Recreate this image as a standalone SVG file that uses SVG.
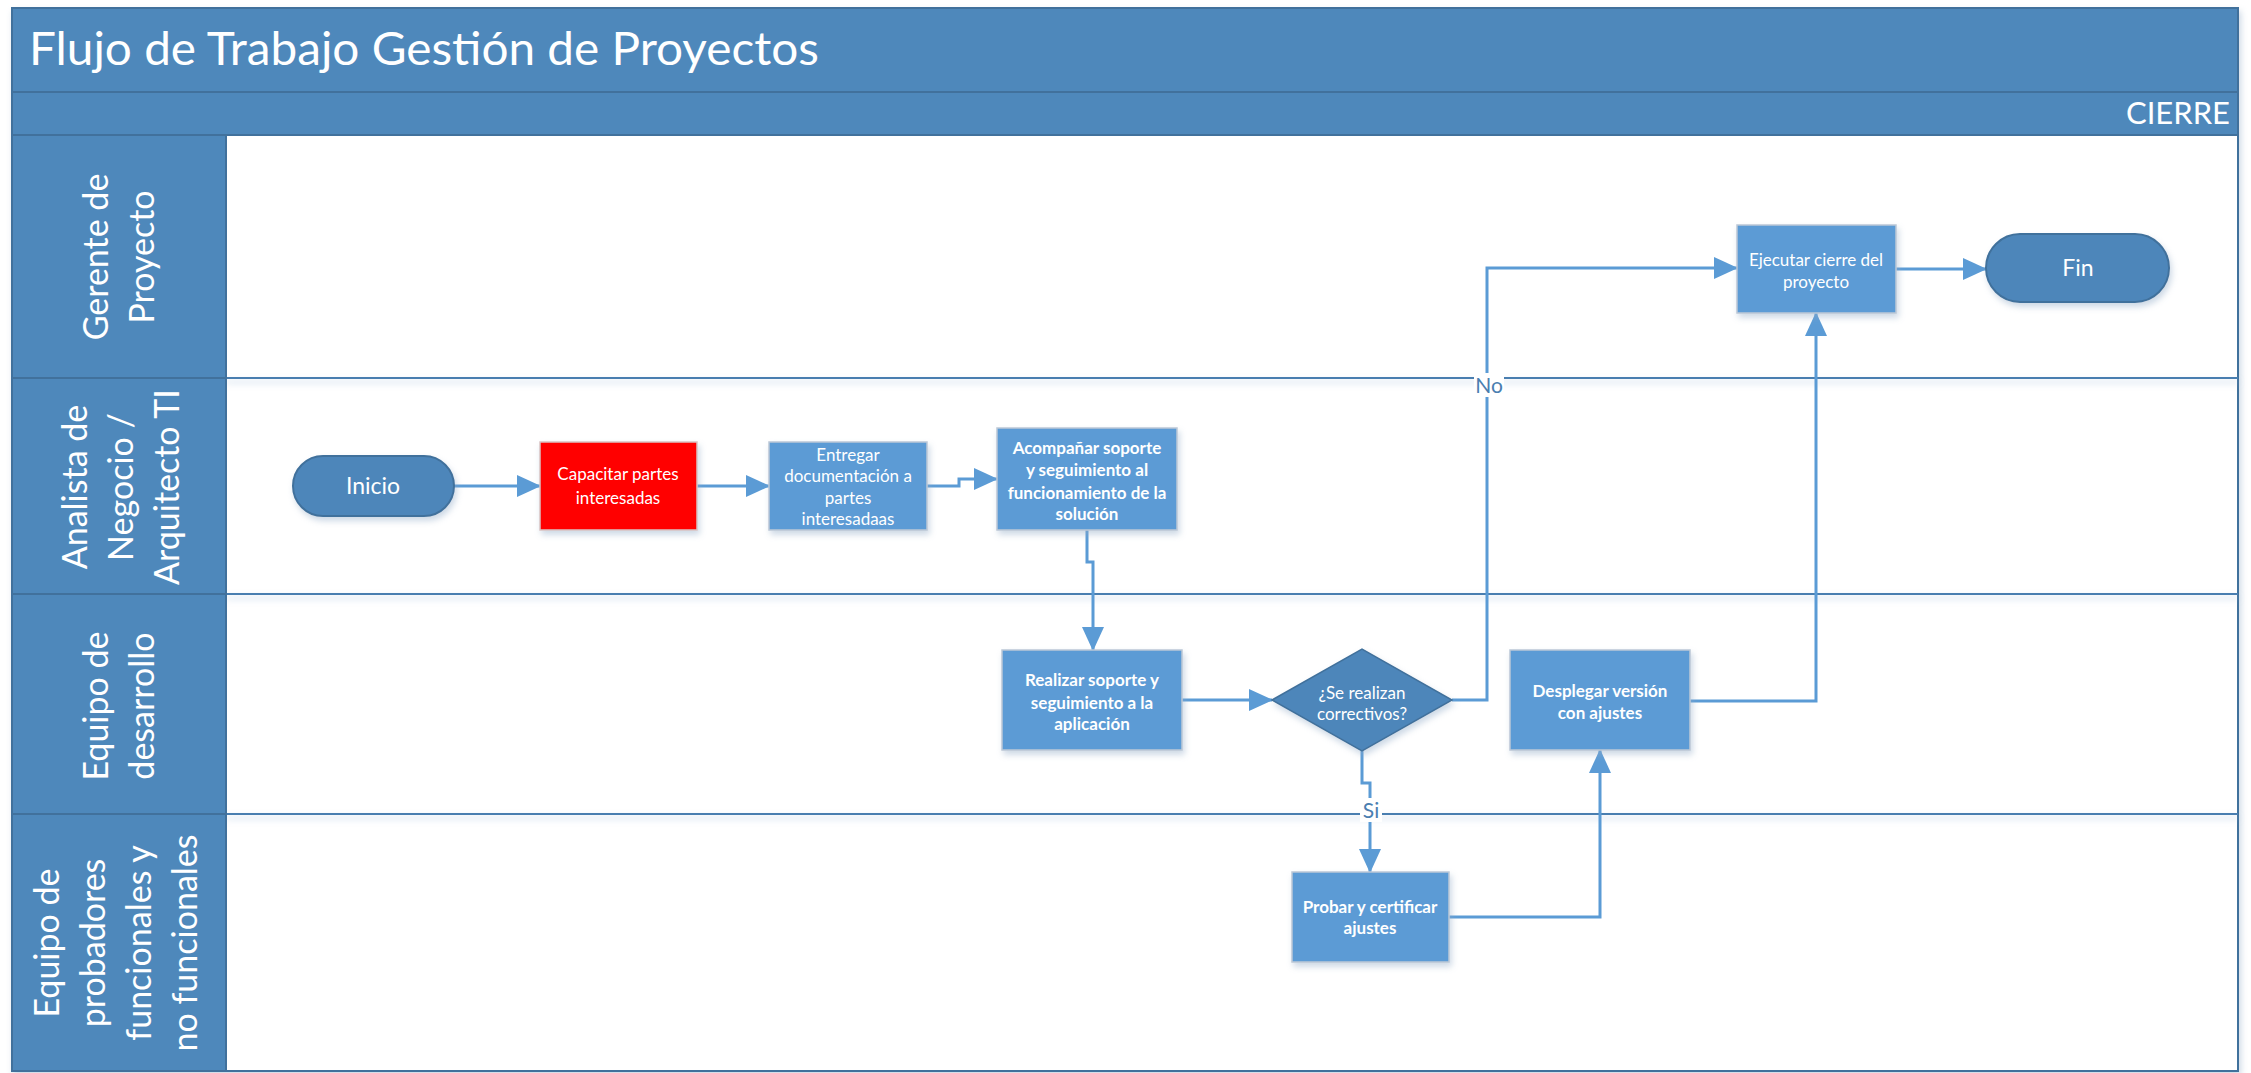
<svg xmlns="http://www.w3.org/2000/svg" width="2251" height="1073" viewBox="0 0 2251 1073">
  <defs>
    <style>
      .band { fill: #4E88BB; stroke: #41719C; stroke-width: 2; }
      .lane-sep { stroke: #4A7EB0; stroke-width: 2; fill: none; }
      .lane-title { font-family: Lato, "Liberation Sans", sans-serif; font-size: 34px; fill: #ffffff; text-anchor: middle; }
      .title { font-family: Lato, "Liberation Sans", sans-serif; font-size: 46px; fill: #ffffff; }
      .phase { font-family: Lato, "Liberation Sans", sans-serif; font-size: 31px; fill: #ffffff; text-anchor: end; }
      .proc { fill: #5B9BD5; stroke: #BCC8D6; stroke-width: 1.5; filter: url(#shadow); }
      .proc-red { fill: #FF0000; stroke: #D9C4C4; stroke-width: 1.5; filter: url(#shadow); }
      .term { fill: #4E86BA; stroke: #41719C; stroke-width: 2; filter: url(#shadow); }
      .dec { fill: #4E86BA; stroke: #41719C; stroke-width: 1.5; filter: url(#shadow); }
      .label { font-family: Lato, "Liberation Sans", sans-serif; font-size: 17px; fill: #ffffff; text-anchor: middle; }
      .bold { font-weight: bold; }
      .term-label { font-family: Lato, "Liberation Sans", sans-serif; font-size: 23px; fill: #ffffff; text-anchor: middle; }
      .conn { fill: none; stroke: #5B9BD5; stroke-width: 3; marker-end: url(#arrow); }
      .conn-label { font-family: Lato, "Liberation Sans", sans-serif; font-size: 21px; fill: #4A7EB0; text-anchor: middle; }
    </style>
    <marker id="arrow" markerUnits="userSpaceOnUse" markerWidth="24" markerHeight="22" refX="23" refY="11" orient="auto">
      <path d="M0,0 L24,11 L0,22 Z" fill="#5B9BD5"/>
    </marker>
    <filter id="shadow" x="-10%" y="-10%" width="130%" height="140%">
      <feDropShadow dx="2" dy="4" stdDeviation="3" flood-color="#8FA9C6" flood-opacity="0.45"/>
    </filter>
    <filter id="lineglow" x="-1%" y="-200%" width="102%" height="600%">
      <feDropShadow dx="0" dy="4" stdDeviation="3" flood-color="#9DBBDA" flood-opacity="0.6"/>
    </filter>
  </defs>

  <!-- page and frame -->
  <rect x="0" y="0" width="2251" height="1073" fill="#ffffff"/>
  <rect x="12" y="8" width="2226" height="1063" fill="#ffffff" stroke="#41719C" stroke-width="2" filter="url(#shadow)"/>

  <!-- title and phase bands -->
  <g id="pool-title">
    <rect class="band" x="12" y="8" width="2226" height="84"/>
    <text class="title" x="29" y="65" textLength="790" lengthAdjust="spacingAndGlyphs">Flujo de Trabajo Gestión de Proyectos</text>
  </g>
  <g id="phase-cierre">
    <rect class="band" x="12" y="92" width="2226" height="43"/>
    <text class="phase" x="2230" y="124">CIERRE</text>
  </g>

  <!-- lane separators -->
  <g id="lane-lines" filter="url(#lineglow)">
    <line class="lane-sep" x1="226" y1="378" x2="2238" y2="378"/>
    <line class="lane-sep" x1="226" y1="594" x2="2238" y2="594"/>
    <line class="lane-sep" x1="226" y1="814" x2="2238" y2="814"/>
  </g>

  <!-- lane headers -->
  <g id="lane-gerente">
    <rect class="band" x="12" y="135" width="214" height="243"/>
    <text class="lane-title" transform="translate(0,257) rotate(-90)"><tspan x="0" y="108">Gerente de</tspan><tspan x="0" y="154">Proyecto</tspan></text>
  </g>
  <g id="lane-analista">
    <rect class="band" x="12" y="378" width="214" height="216"/>
    <text class="lane-title" transform="translate(0,487) rotate(-90)"><tspan x="0" y="87">Analista de</tspan><tspan x="0" y="133">Negocio /</tspan><tspan x="0" y="179">Arquitecto TI</tspan></text>
  </g>
  <g id="lane-desarrollo">
    <rect class="band" x="12" y="594" width="214" height="220"/>
    <text class="lane-title" transform="translate(0,706) rotate(-90)"><tspan x="0" y="108">Equipo de</tspan><tspan x="0" y="154">desarrollo</tspan></text>
  </g>
  <g id="lane-probadores">
    <rect class="band" x="12" y="814" width="214" height="257"/>
    <text class="lane-title" transform="translate(0,943) rotate(-90)"><tspan x="0" y="59">Equipo de</tspan><tspan x="0" y="105">probadores</tspan><tspan x="0" y="151">funcionales y</tspan><tspan x="0" y="197">no funcionales</tspan></text>
  </g>

  <!-- connectors -->
  <g id="connectors">
    <path class="conn" d="M454,486 H540"/>
    <path class="conn" d="M697,486 H769"/>
    <path class="conn" d="M927,486 H959 V479 H997"/>
    <path class="conn" d="M1087,530 V562 H1093 V650"/>
    <path class="conn" d="M1182,700 H1272"/>
    <path class="conn" d="M1452,700 H1487 V268 H1737"/>
    <path class="conn" d="M1362,751 V783 H1370 V872"/>
    <path class="conn" d="M1449,917 H1600 V750"/>
    <path class="conn" d="M1690,701 H1816 V313"/>
    <path class="conn" d="M1896,269 H1986"/>
    <g id="label-no">
      <rect x="1474" y="373" width="30" height="24" fill="#ffffff"/>
      <text class="conn-label" x="1489" y="393">No</text>
    </g>
    <g id="label-si">
      <rect x="1360" y="798" width="22" height="24" fill="#ffffff"/>
      <text class="conn-label" x="1371" y="818">Si</text>
    </g>
  </g>

  <!-- nodes -->
  <g id="inicio">
    <rect class="term" x="293" y="456" width="161" height="60" rx="30"/>
    <text class="term-label" x="373" y="494">Inicio</text>
  </g>
  <g id="capacitar">
    <rect class="proc-red" x="540" y="442" width="157" height="88"/>
    <text class="label"><tspan x="618" y="480">Capacitar partes</tspan><tspan x="618" y="504">interesadas</tspan></text>
  </g>
  <g id="entregar">
    <rect class="proc" x="769" y="442" width="158" height="88"/>
    <text class="label"><tspan x="848" y="461">Entregar</tspan><tspan x="848" y="482">documentación a</tspan><tspan x="848" y="504">partes</tspan><tspan x="848" y="525">interesadaas</tspan></text>
  </g>
  <g id="acompanar">
    <rect class="proc" x="997" y="428" width="180" height="102"/>
    <text class="label bold"><tspan x="1087" y="454">Acompañar soporte</tspan><tspan x="1087" y="476">y seguimiento al</tspan><tspan x="1087" y="499">funcionamiento de la</tspan><tspan x="1087" y="520">solución</tspan></text>
  </g>
  <g id="realizar">
    <rect class="proc" x="1002" y="650" width="180" height="100"/>
    <text class="label bold"><tspan x="1092" y="686">Realizar soporte y</tspan><tspan x="1092" y="709">seguimiento a la</tspan><tspan x="1092" y="730">aplicación</tspan></text>
  </g>
  <g id="decision-correctivos">
    <polygon class="dec" points="1272,700 1362,649 1452,700 1362,751"/>
    <text class="label"><tspan x="1362" y="699">¿Se realizan</tspan><tspan x="1362" y="720">correctivos?</tspan></text>
  </g>
  <g id="probar">
    <rect class="proc" x="1292" y="872" width="157" height="90"/>
    <text class="label bold"><tspan x="1370" y="913">Probar y certificar</tspan><tspan x="1370" y="934">ajustes</tspan></text>
  </g>
  <g id="desplegar">
    <rect class="proc" x="1510" y="650" width="180" height="100"/>
    <text class="label bold"><tspan x="1600" y="697">Desplegar versión</tspan><tspan x="1600" y="719">con ajustes</tspan></text>
  </g>
  <g id="ejecutar">
    <rect class="proc" x="1737" y="225" width="159" height="88"/>
    <text class="label"><tspan x="1816" y="266">Ejecutar cierre del</tspan><tspan x="1816" y="288">proyecto</tspan></text>
  </g>
  <g id="fin">
    <rect class="term" x="1986" y="234" width="183" height="68" rx="34"/>
    <text class="term-label" x="2078" y="276">Fin</text>
  </g>
</svg>
